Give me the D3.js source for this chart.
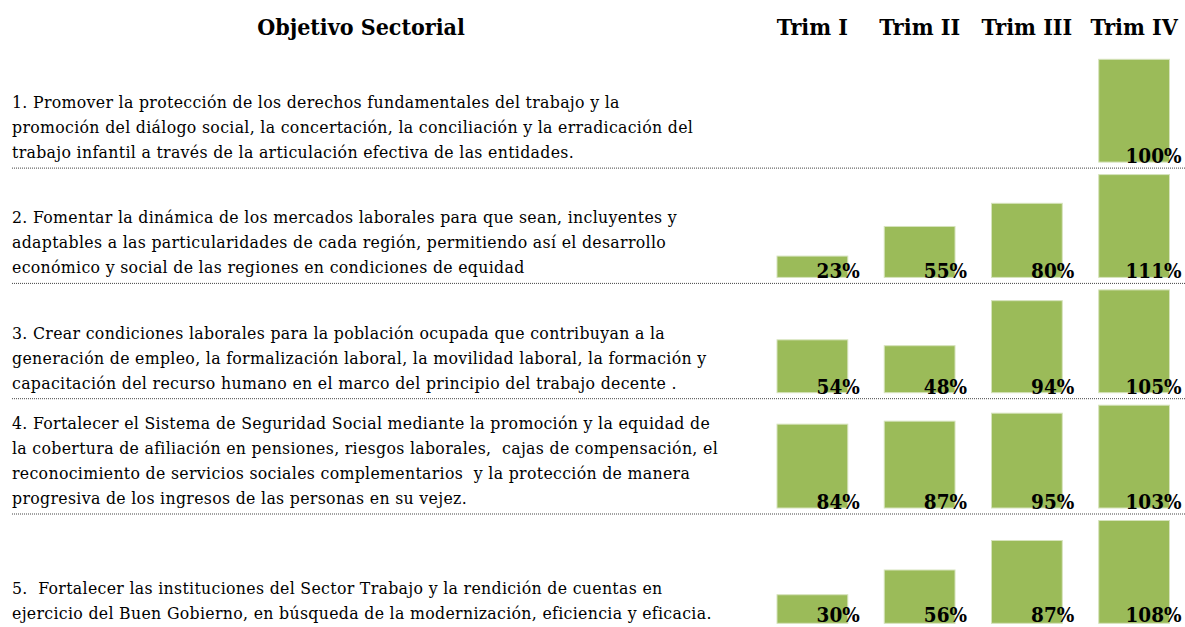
<!DOCTYPE html>
<html>
<head>
<meta charset="utf-8">
<script src="https://cdn.jsdelivr.net/npm/d3@7"></script>
<style>
  body { margin: 0; background: #fff; }
  text { font-family: "DejaVu Serif Condensed", "DejaVu Serif", serif; fill: #000; white-space: pre; }
  .head { font-weight: bold; font-size: 23px; }
  .obj { font-size: 17.5px; letter-spacing: 0.32px; }
  .pct { font-weight: bold; font-size: 20.5px; }
  .sep { stroke: #444; stroke-width: 1; stroke-dasharray: 1,1; }
  .bar { fill: #9bbb59; stroke: #d6e3bc; stroke-width: 1; }
</style>
</head>
<body>
<div id="chart"></div>
<script>
// DATA
const trimestres = ["Trim I", "Trim II", "Trim III", "Trim IV"]

const objetivos = [
  ["1. Promover la protección de los derechos fundamentales del trabajo y la",
   "promoción del diálogo social, la concertación, la conciliación y la erradicación del",
   "trabajo infantil a través de la articulación efectiva de las entidades."],
  ["2. Fomentar la dinámica de los mercados laborales para que sean, incluyentes y",
   "adaptables a las particularidades de cada región, permitiendo así el desarrollo",
   "económico y social de las regiones en condiciones de equidad"],
  ["3. Crear condiciones laborales para la población ocupada que contribuyan a la",
   "generación de empleo, la formalización laboral, la movilidad laboral, la formación y",
   "capacitación del recurso humano en el marco del principio del trabajo decente ."],
  ["4. Fortalecer el Sistema de Seguridad Social mediante la promoción y la equidad de",
   "la cobertura de afiliación en pensiones, riesgos laborales,  cajas de compensación, el",
   "reconocimiento de servicios sociales complementarios  y la protección de manera",
   "progresiva de los ingresos de las personas en su vejez."],
  ["5.  Fortalecer las instituciones del Sector Trabajo y la rendición de cuentas en",
   "ejercicio del Buen Gobierno, en búsqueda de la modernización, eficiencia y eficacia."]
]

// avance por trimestre (%), null = sin dato
const avance = [
  [null, null, null, 100],
  [23, 55, 80, 111],
  [54, 48, 94, 105],
  [84, 87, 95, 103],
  [30, 56, 87, 108]
]

// LAYOUT
const W = 1185, H = 627
const ROWS = { TOP: 52.3, STEP: 115.3 }
const BAR = { TOPPAD: 7, BOTPAD: 5.5 }
const LINE_H = 25

const svg = d3.select("#chart").append("svg")
  .attr("width", W).attr("height", H)

// SCALES
const xScale = d3.scaleBand()
  .domain(trimestres)
  .range([777, 1169.5])
  .paddingInner(0.34)
  .paddingOuter(0)

const rowScale = d3.scaleBand()
  .domain(d3.range(objetivos.length))
  .range([ROWS.TOP, ROWS.TOP + ROWS.STEP * objetivos.length])

// HEADERS
svg.append("text").attr("class", "head")
  .attr("x", 361).attr("y", 35)
  .attr("text-anchor", "middle")
  .text("Objetivo Sectorial")

svg.selectAll(".trim").data(trimestres).join("text")
  .attr("class", "head trim")
  .attr("x", d => xScale(d) + xScale.bandwidth() / 2)
  .attr("y", 35)
  .attr("text-anchor", "middle")
  .text(d => d)

// ROWS
const rows = svg.selectAll(".row").data(objetivos).join("g").attr("class", "row")

rows.each(function (lines, i) {
  const g = d3.select(this)
  const top = rowScale(i)
  const bottom = top + rowScale.bandwidth()

  // separator under the row
  if (i < objetivos.length - 1) {
    g.append("line").attr("class", "sep")
      .attr("x1", 12).attr("x2", W)
      .attr("y1", bottom + 0.5).attr("y2", bottom + 0.5)
  }

  // objective text, bottom aligned
  const lastY = bottom - 9.5
  g.selectAll(".obj").data(lines).join("text")
    .attr("class", "obj")
    .attr("x", 12)
    .attr("y", (d, k) => lastY - (lines.length - 1 - k) * LINE_H)
    .text(d => d)

  // bars, own scale per row
  const vals = trimestres.map((t, k) => ({ t: t, v: avance[i][k] })).filter(d => d.v != null)
  const yScale = d3.scaleLinear()
    .domain([0, d3.max(vals, d => d.v)])
    .range([bottom - BAR.BOTPAD, top + BAR.TOPPAD])

  g.selectAll(".bar").data(vals).join("rect")
    .attr("class", "bar")
    .attr("x", d => xScale(d.t))
    .attr("y", d => yScale(d.v))
    .attr("width", xScale.bandwidth())
    .attr("height", d => yScale(0) - yScale(d.v))

  // keep last row's labels inside the page
  g.selectAll(".pct").data(vals).join("text")
    .attr("class", "pct")
    .attr("x", d => xScale(d.t) + xScale.bandwidth() + 12)
    .attr("y", Math.min(yScale(0) + 1, H - 5.5))
    .attr("text-anchor", "end")
    .text(d => d.v + "%")
})
</script>
</body>
</html>
